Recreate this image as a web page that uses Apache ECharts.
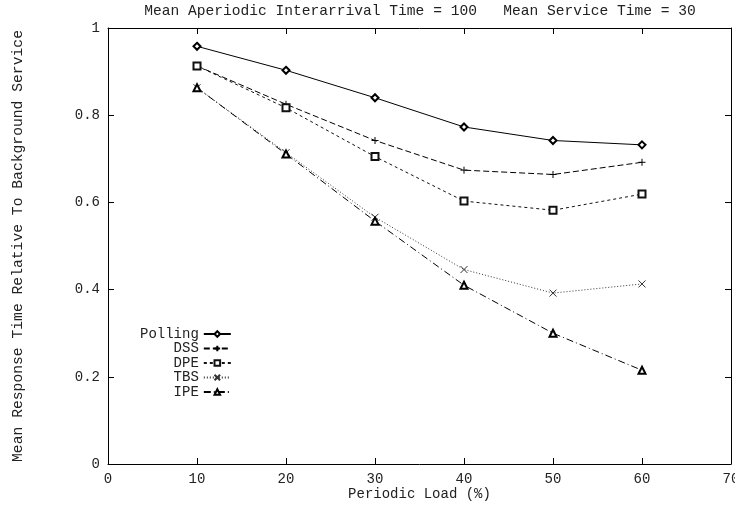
<!DOCTYPE html>
<html>
<head>
<meta charset="utf-8">
<script src="https://cdn.jsdelivr.net/npm/echarts@6/dist/echarts.min.js"></script>
<style>
  html, body { margin: 0; padding: 0; background: #fff; }
  #main { width: 735px; height: 508px; }
</style>
</head>
<body>
<div id="main"></div>
<script>
'use strict';
// periodic load (%) on the x axis
const loads = [10, 20, 30, 40, 50, 60];
// mean response time relative to background service
const polling = [0.958, 0.903, 0.840, 0.773, 0.742, 0.732];
const dss = [0.913, 0.825, 0.742, 0.674, 0.664, 0.692];
const dpe = [0.913, 0.817, 0.705, 0.603, 0.582, 0.619];
const tbs = [0.863, 0.714, 0.566, 0.446, 0.392, 0.413];
const ipe = [0.863, 0.711, 0.557, 0.410, 0.300, 0.215];

const FONT = '"Liberation Mono", "DejaVu Sans Mono", monospace';
const plus = 'path://M0,5L10,5M5,0L5,10';
const cross = 'path://M0,0L10,10M10,0L0,10';

function pairs(vals) {
  return loads.map((x, i) => [x, vals[i]]);
}

function line(name, vals, symbol, dash, color) {
  return {
    name: name,
    type: 'line',
    data: pairs(vals),
    symbol: symbol,
    symbolSize: 7,
    showAllSymbol: true,
    itemStyle: {color: color, borderColor: color, borderWidth: 1},
    lineStyle: {color: color, width: 1, type: dash},
    emphasis: {disabled: true},
    animation: false
  };
}

const tick = {show: true, inside: true, length: 6, lineStyle: {color: '#000'}};
const axisLine = {show: true, onZero: false, lineStyle: {color: '#000', width: 1}};
const labelStyle = {color: '#222', fontFamily: FONT, fontSize: 14};

echarts.init(document.getElementById('main')).setOption({
  backgroundColor: '#fff',
  animation: false,
  title: {
    text: 'Mean Aperiodic Interarrival Time = 100   Mean Service Time = 30',
    left: 420,
    top: 4,
    padding: 0,
    textAlign: 'center',
    textStyle: {fontFamily: FONT, fontSize: 14.6, fontWeight: 'normal', color: '#222'}
  },
  grid: {left: 108, right: 4, top: 28, bottom: 44, outerBoundsMode: 'none'},
  legend: {
    orient: 'vertical',
    left: 135,
    top: 322,
    align: 'right',
    itemWidth: 27,
    itemHeight: 7,
    itemGap: 0.5,
    selectedMode: false,
    formatter: name => name.padStart(7, ' '),
    textStyle: {fontFamily: FONT, fontSize: 14, color: '#222', lineHeight: 14},
    data: ['Polling', 'DSS', 'DPE', 'TBS', 'IPE']
  },
  xAxis: [{
    type: 'value', min: 0, max: 70, interval: 10,
    name: 'Periodic Load (%)', nameLocation: 'middle', nameGap: 23,
    nameMoveOverlap: false,
    nameTextStyle: labelStyle,
    axisLine: axisLine, axisTick: tick, splitLine: {show: false},
    axisLabel: Object.assign({margin: 8}, labelStyle)
  }, {
    type: 'value', min: 0, max: 70, interval: 10, position: 'top',
    axisLine: axisLine, axisTick: tick, splitLine: {show: false},
    axisLabel: {show: false}
  }],
  yAxis: [{
    type: 'value', min: 0, max: 1, interval: 0.2,
    name: 'Mean Response Time Relative To Background Service',
    nameLocation: 'middle', nameGap: 82,
    nameMoveOverlap: false,
    nameTextStyle: Object.assign({}, labelStyle, {fontSize: 14.7}),
    axisLine: axisLine, axisTick: tick, splitLine: {show: false},
    axisLabel: Object.assign({margin: 8}, labelStyle)
  }, {
    type: 'value', min: 0, max: 1, interval: 0.2, position: 'right',
    axisLine: axisLine, axisTick: tick, splitLine: {show: false},
    axisLabel: {show: false}
  }],
  series: [
    line('Polling', polling, 'emptyDiamond', 'solid', '#000'),
    line('DSS', dss, plus, [6, 3], '#000'),
    line('DPE', dpe, 'emptyRect', [3, 3], '#111'),
    line('TBS', tbs, cross, [1, 2], '#333'),
    line('IPE', ipe, 'emptyTriangle', [7, 3, 1, 3], '#000')
  ]
});
</script>
</body>
</html>
